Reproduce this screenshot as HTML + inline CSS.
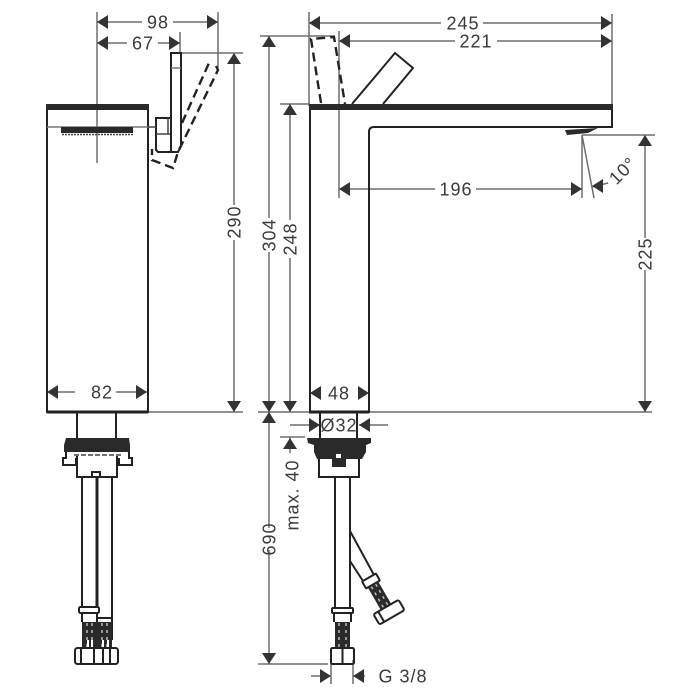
<!DOCTYPE html>
<html>
<head>
<meta charset="utf-8">
<style>
html,body{margin:0;padding:0;background:#fff}
svg{display:block;filter:blur(.35px)}
text{font-family:"Liberation Sans",sans-serif;font-size:18px;fill:#3a3a3a;text-anchor:middle;letter-spacing:1px}
.d{stroke:#6e6e6e;stroke-width:1.5;fill:none}
.o{stroke:#222;stroke-width:2;fill:none}
.t{stroke:#222;stroke-width:3;fill:none}
.h{stroke:#222;stroke-width:2.400;fill:none;stroke-dasharray:9 5}
.a{fill:#333;stroke:none}
.k{fill:#2a2a2a;stroke:none}
</style>
</head>
<body>
<svg width="700" height="700" viewBox="0 0 700 700" xmlns="http://www.w3.org/2000/svg">
<defs>
<path id="L" class="a" d="M0 0L11 -7V7Z"/>
<path id="R" class="a" d="M0 0L-11 -7V7Z"/>
<path id="U" class="a" d="M0 0L-7 11H7Z"/>
<path id="D" class="a" d="M0 0L-7 -11H7Z"/>
</defs>

<!-- LEFT VIEW: extension and dimension lines -->
<path class="d" d="M97 12V163M180 32V53M218 12V68M180 53H243M148 412H243"/>
<path class="d" d="M97 22H142M173 22H218M97 43H127M158 43H180"/>
<path class="d" d="M234 53V205M234 240V412M47 392H75M116 392H147"/>
<use href="#L" x="97" y="22"/><use href="#R" x="218" y="22"/>
<use href="#L" x="97" y="43"/><use href="#R" x="180" y="43"/>
<use href="#U" x="234" y="53"/><use href="#D" x="234" y="412"/>
<use href="#L" x="47" y="392"/><use href="#R" x="147" y="392"/>
<text x="158" y="28.500">98</text>
<text x="143" y="49.500">67</text>
<text x="102" y="398.500">82</text>
<text transform="translate(240.500 222) rotate(-90)">290</text>

<!-- LEFT VIEW: body -->
<path class="o" d="M47 106V412H148V106"/>
<rect class="k" x="46" y="104" width="103" height="6"/>
<path d="M47 127H148" stroke="#777" stroke-width="1.5"/>
<rect class="k" x="61" y="127" width="72" height="6"/>
<path d="M62 134.500H133" stroke="#444" stroke-width="1.500" stroke-dasharray="2 1"/>
<path d="M47 412H148" stroke="#222" stroke-width="3"/>

<!-- LEFT VIEW: handle -->
<path class="o" d="M171 152V53H181V146L178 152H158L156 150V118H170"/>
<path d="M171 68H181" stroke="#777" stroke-width="1.500"/>
<path d="M156 134H170M168 118V134M148 127H156" stroke="#444" stroke-width="1.500" fill="none"/>
<path class="h" d="M182 123L209 63M216 66L218 70L178 152L173 168L152 160L152 149"/>

<!-- LEFT VIEW: lower fittings -->
<path class="o" d="M77 412V438M116 412V438"/>
<path class="k" d="M66 438H129L130 445V452H64V445Z"/>
<path class="o" d="M66 452V458H63V465H76V458M129 452V458H132V465H119V458"/>
<path d="M74 455H122" stroke="#444" stroke-width="1.500" stroke-dasharray="5 2"/>
<path class="o" d="M77 456V477H117V456"/>
<path d="M92 477V472H100V477" stroke="#222" stroke-width="2" fill="none"/>
<path class="o" d="M82 477V607M112 477V640"/>
<path class="t" d="M97 477V607"/>
<rect class="o" x="79" y="607" width="20" height="6" rx="1.500"/>
<path class="o" d="M82 613V622M97 613V640M97 618H112"/>
<rect class="k" x="82" y="622" width="30" height="26"/>
<path d="M87 623V647M92 623V647M102 623V647M107 623V647" stroke="#bbb" stroke-width="1.500" stroke-dasharray="3 4"/>
<path d="M88 640V647M92 640V647M103 640V647M108 640V647" stroke="#fff" stroke-width="2"/>
<rect class="o" x="75" y="648" width="43" height="16" rx="2.500" stroke-width="2.400"/>
<path class="o" d="M81 648V664M94 648V664M103 648V664M110 648V664"/>

<!-- RIGHT VIEW: extension and dimension lines -->
<path class="d" d="M309 12V106M339 31V198M612 14V104M260 36H335M280 104H310M258 412H309M369 412H652M582 135H655"/>
<path class="d" d="M309 23H441M483 23H612M339 41H455M497 41H612M339 189H435M476 189H582"/>
<path class="d" d="M269 36V218M269 252V412M290 104V220M290 258V412M645 135V238M645 270V412"/>
<path class="d" d="M582 135V198M582 135L594 198M592 187L608 183"/>
<path class="d" d="M269 412V528M269 550V664M258 664H328M290 437V453M280 437H305"/>
<path class="d" d="M290 425H320M359 425H388M331 660V684M353 660V684M331 676H311M353 676H365"/>
<use href="#L" x="339" y="41"/><use href="#R" x="612" y="41"/>
<use href="#L" x="309" y="23"/><use href="#R" x="612" y="23"/>
<use href="#L" x="339" y="189"/><use href="#R" x="582" y="189"/>
<use href="#L" x="592" y="186"/>
<use href="#U" x="269" y="36"/><use href="#D" x="269" y="412"/>
<use href="#U" x="290" y="104"/><use href="#D" x="290" y="412"/>
<use href="#U" x="645" y="135"/><use href="#D" x="645" y="412"/>
<use href="#U" x="269" y="412"/><use href="#D" x="269" y="664"/>
<use href="#L" x="310" y="393"/><use href="#R" x="369" y="393"/>
<use href="#R" x="320" y="425"/><use href="#L" x="359" y="425"/>
<use href="#U" x="290" y="438"/>
<use href="#R" x="331" y="676"/><use href="#L" x="353" y="676"/>

<text x="463" y="29.500">245</text>
<text x="476" y="47.500">221</text>
<text x="456" y="195.500">196</text>
<text x="339" y="399.500">48</text>
<text x="339" y="431.500">Ø32</text>
<text x="403" y="682.500">G 3/8</text>
<text transform="translate(275.500 235) rotate(-90)">304</text>
<text transform="translate(296.500 239) rotate(-90)">248</text>
<text transform="translate(651.500 254) rotate(-90)">225</text>
<text transform="translate(275.500 539) rotate(-90)">690</text>
<text transform="translate(298.500 495) rotate(-90)">max. 40</text>
<text transform="translate(627 175) rotate(-45)">10°</text>

<!-- RIGHT VIEW: body -->
<path class="o" d="M310 106V412H369V132Q369 127 374 127H612V104"/>
<rect class="k" x="309" y="104" width="304" height="6"/>
<path d="M309 412H369" stroke="#222" stroke-width="3"/>
<path class="o" d="M352 104L395 53L413 68L383 104"/>
<path class="h" d="M321 103L311 39L334 37L345 104" stroke-dasharray="9 4"/>
<path class="k" d="M565 130L598 128L588 133L567 135Z"/>

<!-- RIGHT VIEW: lower fittings -->
<path class="o" d="M320 412V438M357 412V438"/>
<path class="k" d="M307 438H371V443L366 445V452L362 459H317L314 452V445L308 443Z"/>
<path class="k" d="M332 459H346V467H332Z"/>
<rect x="336" y="454" width="5" height="4" fill="#fff"/>
<path class="o" d="M319 459V477H359V459"/>
<path class="o" d="M335 477V607M350 477V607M350 531L374 575M350 561L363 581"/>
<rect class="o" x="332" y="608" width="21" height="5" rx="1"/>
<path class="o" d="M334 613V622M351 613V622"/>
<rect class="k" x="335" y="622" width="15" height="26"/>
<path d="M339 623V647M346 623V647" stroke="#bbb" stroke-width="1.500" stroke-dasharray="3 4"/>
<rect class="o" x="331" y="648" width="23" height="16" rx="1.500"/>
<path class="o" d="M342.500 648V664"/>

<g transform="translate(371 581) rotate(-30)">
<rect class="o" x="-8" y="-4" width="16" height="8" rx="1" fill="#fff"/>
<rect class="k" x="-6" y="4" width="12" height="26"/>
<path d="M-2.500 5V29M2.500 5V29" stroke="#bbb" stroke-width="1.500" stroke-dasharray="3 4"/>
<rect class="o" x="-14.500" y="30" width="29" height="12" rx="2"/>
<path class="o" d="M-9 30V42"/>
</g>
</svg>
</body>
</html>
